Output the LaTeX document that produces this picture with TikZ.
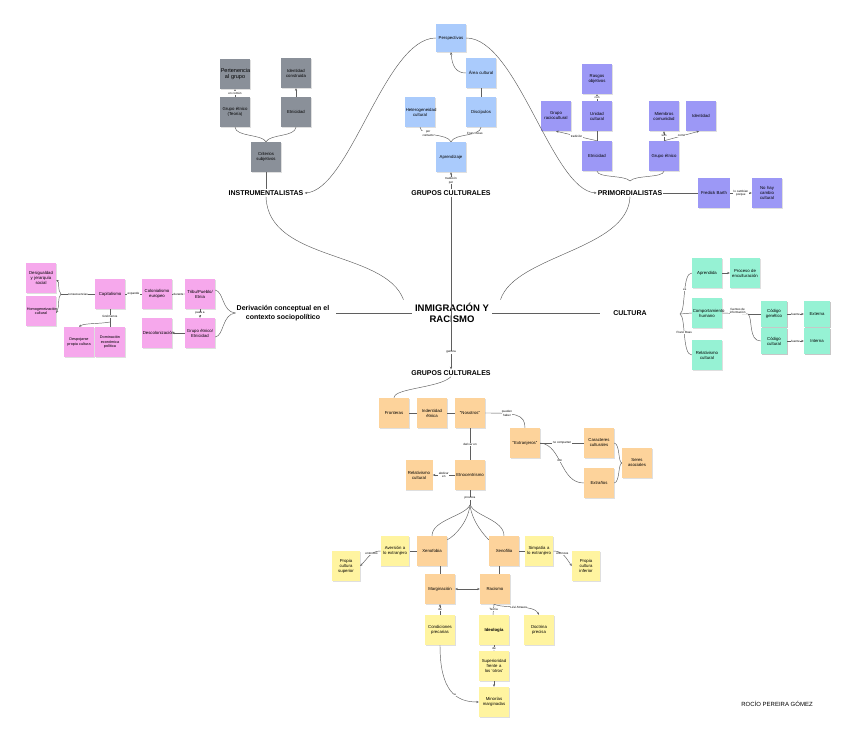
\documentclass[tikz,border=0pt]{standalone}
\usepackage{fontspec}
\setmainfont{Liberation Sans}
\usetikzlibrary{arrows.meta, shadows}
\definecolor{graynote}{RGB}{138, 144, 153}
\definecolor{bluenote}{RGB}{170, 203, 252}
\definecolor{purplenote}{RGB}{156, 152, 246}
\definecolor{pinknote}{RGB}{246, 168, 236}
\definecolor{greennote}{RGB}{150, 242, 212}
\definecolor{orangenote}{RGB}{253, 211, 155}
\definecolor{yellownote}{RGB}{255, 244, 160}
\definecolor{linkcolor}{RGB}{95, 95, 95}

\begin{document}
\begin{tikzpicture}[
    x=1pt, y=-1pt,
    note/.style={
        draw=none,
        minimum width=30pt,
        minimum height=30pt,
        inner sep=0.8pt,
        text width=28.4pt,
        align=center,
        font=\fontsize{4.3}{5}\selectfont,
        drop shadow={shadow xshift=0.6pt, shadow yshift=-0.9pt, opacity=0.25}
    },
    smallnote/.style={
        note,
        minimum width=26pt,
        minimum height=26pt,
        text width=24pt
    },
    graycard/.style={note, fill=graynote},
    bluecard/.style={note, fill=bluenote},
    purplecard/.style={note, fill=purplenote},
    pinkcard/.style={note, fill=pinknote},
    greencard/.style={note, fill=greennote},
    orangecard/.style={note, fill=orangenote},
    yellowcard/.style={note, fill=yellownote},
    heading/.style={
        font=\fontsize{7}{8.4}\selectfont\bfseries,
        align=center,
        inner sep=1pt
    },
    tag/.style={
        font=\fontsize{3}{3.4}\selectfont,
        fill=white,
        inner sep=0.4pt,
        align=center
    },
    link/.style={
        draw=linkcolor,
        line width=0.45pt
    },
    arrowlink/.style={
        link,
        -{Stealth[length=2.6pt, width=2.2pt]}
    }
]

% Canvas
\fill[white] (0,0) rectangle (848,754);
\useasboundingbox (0,0) rectangle (848,754);

% Title
\node[font=\fontsize{9.5}{11}\selectfont\bfseries, align=center] (inmig) at (452,313) {INMIGRACIÓN Y\\RACISMO};

% ==================== INSTRUMENTALISTAS ====================
\node[graycard, font=\fontsize{5.5}{6.3}\selectfont] (pertenencia) at (235,74) {Pertenencia al grupo};
\node[graycard] (idconstruida) at (296,73) {Identidad construida};
\node[graycard] (grupoteoria) at (235,112) {Grupo étnico (Teoría)};
\node[graycard] (etnicidadi) at (296,112) {Etnicidad};
\node[graycard] (criterios) at (266,157) {Criterios subjetivos};
\node[heading] (instru) at (266,193) {INSTRUMENTALISTAS};

\draw[arrowlink] (grupoteoria) -- node[tag] {en común} (pertenencia);
\draw[arrowlink] (etnicidadi) -- (idconstruida);
\draw[link] (grupoteoria.south) .. controls (236,137) and (262,134) .. (criterios.north);
\draw[link] (etnicidadi.south) .. controls (295,137) and (270,134) .. (criterios.north);
\draw[link] (criterios) -- (instru);

% ==================== PRIMORDIALISTAS ====================
\node[purplecard] (rasgos) at (597,79) {Rasgos objetivos};
\node[purplecard] (raciocultural) at (556,116) {Grupo raciocultural};
\node[purplecard] (unidad) at (597,116) {Unidad cultural};
\node[purplecard] (miembros) at (664,116) {Miembros comunidad};
\node[purplecard] (identidadp) at (701,116) {Identidad};
\node[purplecard] (etnicidadp) at (597,156) {Etnicidad};
\node[purplecard] (grupoetp) at (664,156) {Grupo étnico};
\node[heading] (primord) at (630,193) {PRIMORDIALISTAS};
\node[purplecard, text width=30pt] (barth) at (714,193) {Fredick Barth};
\node[purplecard] (nohay) at (767,193) {No hay cambio cultural};

\draw[arrowlink] (unidad) -- node[tag] {con} (rasgos);
\draw[link] (etnicidadp) -- (unidad);
\draw[arrowlink] (etnicidadp.north) -- node[tag] {tradición} (raciocultural.south);
\draw[arrowlink] (grupoetp) -- node[tag] {son} (miembros);
\draw[arrowlink] (grupoetp.north) -- node[tag] {como} ([xshift=-2pt]identidadp.south);
\coordinate (pjoin) at (630,181);
\draw[link] (etnicidadp.south) .. controls (598,178) and (625,175) .. (pjoin);
\draw[link] (grupoetp.south) .. controls (663,178) and (635,175) .. (pjoin);
\draw[link] (primord) -- (barth);
\draw[arrowlink] (barth) -- node[tag] {lo cambian\\porque} (nohay);

% ==================== GRUPOS CULTURALES (arriba) ====================
\node[bluecard, minimum height=28pt] (perspectivas) at (451,38) {Perspectivas};
\node[bluecard] (areacultural) at (481,73) {Área cultural};
\node[bluecard] (heterog) at (420,112) {Heterogeneidad cultural};
\node[bluecard] (discipulos) at (481,112) {Discípulos};
\node[bluecard] (aprendizaje) at (451,157) {Aprendizaje};
\node[heading] (gruposup) at (451,193) {GRUPOS CULTURALES};

\draw[arrowlink] (areacultural.west) .. controls (456,73) and (452,66) .. (perspectivas.south);
\draw[link] (areacultural) -- (discipulos);
\draw[link] (heterog.south) .. controls (421,137) and (447,133) .. node[tag, pos=0.35] {por\\contacto} (aprendizaje.north);
\draw[link] (discipulos.south) .. controls (480,137) and (455,133) .. node[tag, pos=0.3] {Franz Boas} (aprendizaje.north);
\draw[arrowlink] (gruposup) -- node[tag] {tradición\\por} (aprendizaje);

\draw[arrowlink] (perspectivas.west) .. controls (385,38) and (350,190) .. (instru.east);
\draw[arrowlink] (perspectivas.east) .. controls (517,38) and (552,190) .. (primord.west);

% ==================== CENTRO ====================
\node[heading] (derivacion) at (283,313) {Derivación conceptual en el\\contexto sociopolítico};
\node[heading] (cultura) at (630,313) {CULTURA};
\node[heading] (gruposdown) at (451,373) {GRUPOS CULTURALES};

\draw[arrowlink] (gruposup) -- node[tag, pos=0.9] {genera} (gruposdown);
\draw[link] (instru.south) .. controls (268,262) and (385,250) .. ([xshift=-8pt]inmig.north west);
\draw[link] ([xshift=8pt]inmig.north east) .. controls (515,255) and (628,250) .. (primord.south);
\draw[link] (inmig.west) -- ([xshift=6pt]derivacion.east);
\draw[link] (inmig.east) -- ([xshift=-12pt]cultura.west);

% ==================== DERIVACION (rosa) ====================
\node[pinkcard] (desigualdad) at (41,278) {Desigualdad\\y jerarquía\\social};
\node[pinkcard, font=\fontsize{3.8}{4.5}\selectfont] (homogen) at (41,311) {Homogeneización cultural};
\node[pinkcard] (capitalismo) at (110,294) {Capitalismo};
\node[pinkcard] (colonialismo) at (157,294) {Colonialismo europeo};
\node[pinkcard] (tribu) at (200,294) {Tribu/Pueblo/\\Etnia};
\node[pinkcard, font=\fontsize{3.8}{4.5}\selectfont] (despojarse) at (79,342) {Despojarse propia cultura};
\node[pinkcard, font=\fontsize{3.8}{4.5}\selectfont] (dominacion) at (110,342) {Dominación económica política};
\node[pinkcard] (descolon) at (157,333) {Descolonización};
\node[pinkcard] (grupoetnicidad) at (200,333) {Grupo étnico/\\Etnicidad};

\coordinate (pinkbrace) at (61,294);
\draw[link] (capitalismo.west) -- node[tag] {consecuencias} (pinkbrace);
\draw[arrowlink] (pinkbrace) .. controls (57,290) and (60,282) .. ([yshift=-2pt]desigualdad.east);
\draw[arrowlink] (pinkbrace) .. controls (57,298) and (60,306) .. ([yshift=-2pt]homogen.east);
\draw[link] (capitalismo) -- node[tag] {expande} (colonialismo);
\draw[arrowlink] (colonialismo) -- node[tag] {durante} (tribu);
\draw[arrowlink] (tribu) -- node[tag] {pasa a} (grupoetnicidad);
\draw[arrowlink] (grupoetnicidad) -- (descolon);
\coordinate (fenom) at (110,322);
\draw[link] (capitalismo.south) -- node[tag, pos=0.6] {fenómenos} (fenom);
\draw[arrowlink] (fenom) .. controls (100,324) and (84,323) .. (despojarse.north);
\draw[link] (fenom) -- (dominacion.north);
\draw[link] ([yshift=4pt]tribu.east) .. controls (224,292) and (222,312) .. (derivacion.west);
\draw[link] ([yshift=-4pt]grupoetnicidad.east) .. controls (224,336) and (222,314) .. (derivacion.west);

% ==================== CULTURA (verde) ====================
\node[greencard] (aprendida) at (707,273) {Aprendida};
\node[greencard] (enculturacion) at (745,273) {Proceso de enculturación};
\node[greencard] (comportamiento) at (707,313) {Comportamiento humano};
\node[greencard] (relativismog) at (707,355) {Relativismo cultural};
\node[greencard, smallnote] (genetico) at (774,314) {Código genético};
\node[greencard, smallnote] (codcultural) at (774,341) {Código cultural};
\node[greencard, smallnote] (externa) at (817,314) {Externa};
\node[greencard, smallnote] (interna) at (817,341) {Interna};

\coordinate (greenbrace) at (680,314);
\draw[link] (greenbrace) .. controls (686,311) and (682,273) .. node[tag, pos=0.55] {es} (aprendida.west);
\draw[link] (greenbrace) -- (comportamiento.west);
\draw[link] (greenbrace) .. controls (686,317) and (682,355) .. node[tag, pos=0.45] {Franz Boas} (relativismog.west);
\draw[arrowlink] (aprendida) -- (enculturacion);
\coordinate (fuentesplit) at (748,314);
\draw[link] (comportamiento.east) -- node[tag, above=-0.5pt, pos=0.6] {fuentes de\\información} (fuentesplit);
\draw[link] (fuentesplit) -- (genetico.west);
\draw[link] (fuentesplit) .. controls (753,318) and (748,341) .. (codcultural.west);
\draw[arrowlink] (genetico) -- node[tag] {fuente} (externa);
\draw[arrowlink] (codcultural) -- node[tag] {fuente} (interna);

% ==================== GRUPOS CULTURALES (abajo) ====================
\node[orangecard] (fronteras) at (394,413) {Fronteras};
\node[orangecard] (indentidad) at (432,413) {Indentidad étnica};
\node[orangecard] (nosotros) at (470,413) {“Nosotros”};
\node[orangecard] (extranjeros) at (525,443) {“Extranjeros”};
\node[orangecard] (caracteres) at (599,443) {Caracteres culturales};
\node[orangecard] (extranos) at (599,483) {Extraños};
\node[orangecard] (seres) at (637,463) {Seres asociales};
\node[orangecard] (etnocentrismo) at (470,475) {Etnocentrismo};
\node[orangecard, minimum width=27pt, text width=25pt] (relativismoo) at (419,475) {Relativismo cultural};

\draw[link] (fronteras.north) .. controls (394,388) and (440,388) .. (gruposdown.south);
\draw[link] (fronteras) -- (indentidad);
\draw[link] (indentidad) -- (nosotros);
\draw[link] (nosotros.east) .. controls (515,413) and (525,414) .. node[tag, pos=0.3] {pueden\\haber} (extranjeros.north);
\draw[link] (nosotros) -- node[tag] {derivar en} (etnocentrismo);
\draw[arrowlink] (etnocentrismo) -- node[tag] {abdicar\\en} (relativismoo);
\draw[link] (extranjeros.east) -- node[tag] {no comparten} (caracteres.west);
\draw[link] (extranjeros.east) .. controls (562,445) and (560,483) .. node[tag, pos=0.45] {son} (extranos.west);
\draw[link] (caracteres.east) .. controls (620,444) and (618,462) .. (seres.west);
\draw[link] (extranos.east) .. controls (620,482) and (618,464) .. (seres.west);
\coordinate (provoca) at (470,505);
\draw[link] (etnocentrismo.south) -- node[tag, pos=0.55] {provoca} (provoca);

% ==================== XENOFOBIA / XENOFILIA ====================
\node[orangecard] (xenofobia) at (432,551) {Xenofobia};
\node[orangecard] (xenofilia) at (504,551) {Xenofilia};
\node[yellowcard, minimum width=28pt, text width=27pt] (aversion) at (395,551) {Aversión a\\lo extranjero};
\node[yellowcard, minimum width=28pt, text width=26pt] (superior) at (346,566) {Propia cultura superior};
\node[yellowcard, minimum width=28pt, text width=27pt] (simpatia) at (539,551) {Simpatía a\\lo extranjero};
\node[yellowcard, minimum width=28pt, text width=26pt] (inferior) at (586,566) {Propia cultura inferior};
\node[orangecard] (marginacion) at (440,589) {Marginación};
\node[orangecard] (racismo) at (495,589) {Racismo};

\draw[link] (provoca) .. controls (465,516) and (432,520) .. (xenofobia.north);
\draw[link] (provoca) .. controls (468,522) and (455,536) .. ([yshift=-4pt]xenofobia.north east);
\draw[link] (provoca) .. controls (472,522) and (485,536) .. ([yshift=-4pt]xenofilia.north west);
\draw[link] (provoca) .. controls (475,516) and (504,520) .. (xenofilia.north);
\draw[link] (xenofobia) -- (aversion);
\draw[arrowlink] (aversion.west) .. controls (371,551) and (368,558) .. node[tag, pos=0.4] {entonces} (superior.east);
\draw[link] (xenofilia) -- (simpatia);
\draw[arrowlink] (simpatia.east) .. controls (563,551) and (566,558) .. node[tag, pos=0.4] {entonces} (inferior.west);
\draw[link] (marginacion.north) -- (marginacion.north |- xenofobia.south);
\draw[link] ([xshift=4pt]racismo.north) -- ([xshift=4pt]racismo.north |- xenofilia.south);
\draw[link, {Stealth[length=2.6pt, width=2.2pt]}-{Stealth[length=2.6pt, width=2.2pt]}] (marginacion) -- (racismo);

% ==================== RACISMO ====================
\node[yellowcard] (condiciones) at (440,630) {Condiciones precarias};
\node[yellowcard] (ideologia) at (494,630) {\textbf{Ideología}};
\node[yellowcard] (doctrina) at (539,630) {Doctrina precisa};
\node[yellowcard] (superioridad) at (494,666) {Superioridad frente a los ‘otros’};
\node[yellowcard] (minorias) at (494,702) {Minorías marginadas};

\draw[arrowlink] (condiciones) -- node[tag] {de} (marginacion);
\draw[link] ([xshift=-1pt]racismo.south) -- node[tag] {Teoría} ([xshift=-1pt]ideologia.north);
\draw[arrowlink] ([xshift=-1pt]racismo.south) .. controls (505,609) and (534,604) .. node[tag, pos=0.5] {Lévi-Strauss} (doctrina.north);
\draw[arrowlink] (ideologia) -- node[tag] {de} (superioridad);
\draw[arrowlink] (superioridad) -- (minorias);
\draw[arrowlink] (condiciones.south) .. controls (440,690) and (455,702) .. node[tag, pos=0.6] {a} (minorias.west);

% Firma
\node[font=\fontsize{6}{7}\selectfont] (firma) at (777,704) {ROCÍO PEREIRA GÓMEZ};

\end{tikzpicture}
\end{document}
